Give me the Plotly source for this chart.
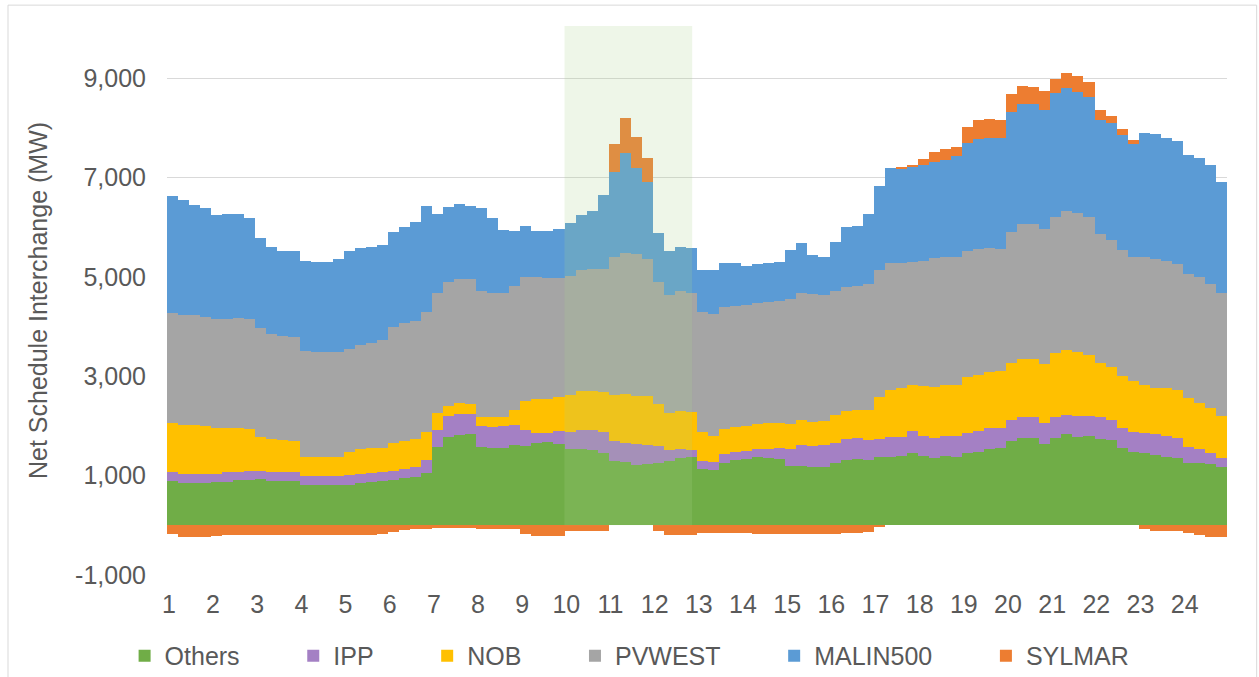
import plotly.graph_objects as go

# Hour-of-day labels (24 hours, 15-minute intervals)
hours = list(range(1, 25))
tick_text = [str(h) for h in hours]
y_tick_values = [-1000, 1000, 3000, 5000, 7000, 9000]
y_tick_text = ["-1,000", "1,000", "3,000", "5,000", "7,000", "9,000"]

# Net schedule interchange by intertie (MW), 15-minute values, hours 1-24
Others = [
    890, 844, 844, 844, 877, 877, 904, 904, 924, 884, 884, 884, 810, 810, 810, 810,
    803, 844, 877, 890, 911, 944, 978, 1045, 1581, 1783, 1823, 1837, 1581, 1561, 1561, 1615,
    1602, 1663, 1682, 1642, 1542, 1528, 1515, 1461, 1293, 1267, 1220, 1233, 1260, 1287, 1354, 1367,
    1139, 1105, 1260, 1307, 1340, 1367, 1360, 1327, 1199, 1199, 1179, 1179, 1260, 1313, 1327, 1307,
    1367, 1381, 1394, 1461, 1394, 1360, 1401, 1381, 1448, 1481, 1541, 1548, 1703, 1750, 1750, 1636,
    1750, 1837, 1784, 1790, 1743, 1716, 1562, 1475, 1448, 1414, 1381, 1361, 1254, 1260, 1227, 1173,
]
IPP = [
    182, 187, 187, 187, 154, 195, 168, 188, 168, 181, 181, 181, 181, 174, 174, 174,
    202, 187, 181, 175, 174, 188, 187, 268, 336, 422, 416, 402, 416, 423, 436, 395,
    315, 187, 168, 248, 342, 389, 395, 409, 410, 396, 409, 383, 342, 228, 174, 148,
    161, 175, 174, 161, 148, 161, 181, 234, 329, 409, 416, 436, 402, 416, 429, 415,
    376, 395, 389, 429, 403, 403, 402, 409, 415, 423, 416, 409, 416, 422, 422, 429,
    422, 382, 415, 416, 429, 403, 388, 408, 415, 423, 422, 395, 315, 268, 234, 181,
]
NOB = [
    979, 993, 986, 966, 919, 885, 892, 838, 691, 664, 651, 637, 389, 390, 396, 396,
    469, 497, 497, 490, 564, 563, 564, 570, 335, 201, 214, 201, 188, 201, 188, 309,
    584, 698, 691, 698, 737, 785, 792, 805, 925, 985, 979, 985, 838, 751, 778, 771,
    570, 516, 496, 502, 509, 502, 517, 503, 509, 510, 483, 490, 557, 570, 563, 597,
    831, 946, 973, 933, 1006, 1026, 1027, 1033, 1127, 1127, 1127, 1147, 1140, 1167, 1167, 1180,
    1288, 1308, 1281, 1221, 1087, 1073, 1054, 1027, 960, 926, 953, 966, 986, 926, 892, 845,
]
PVWEST = [
    2227, 2213, 2214, 2200, 2194, 2187, 2213, 2214, 2179, 2113, 2092, 2093, 2126, 2105, 2106, 2113,
    2066, 2099, 2119, 2173, 2347, 2381, 2388, 2415, 2415, 2495, 2495, 2515, 2535, 2482, 2495, 2495,
    2501, 2441, 2434, 2387, 2401, 2441, 2455, 2475, 2777, 2837, 2844, 2750, 2462, 2374, 2401, 2381,
    2428, 2455, 2455, 2448, 2442, 2436, 2434, 2455, 2509, 2549, 2575, 2521, 2488, 2502, 2502, 2529,
    2563, 2562, 2521, 2481, 2521, 2596, 2575, 2582, 2522, 2535, 2502, 2455, 2649, 2716, 2716, 2710,
    2750, 2804, 2810, 2783, 2602, 2548, 2535, 2482, 2582, 2602, 2562, 2535, 2501, 2548, 2502, 2468,
]
MALIN500 = [
    2360, 2301, 2213, 2180, 2106, 2119, 2086, 2032, 1831, 1764, 1717, 1730, 1824, 1818, 1804, 1864,
    1985, 1945, 1918, 1911, 1911, 1925, 1992, 2139, 1609, 1509, 1523, 1469, 1657, 1509, 1274, 1114,
    1020, 939, 946, 986, 1053, 1100, 1167, 1496, 1710, 1999, 1730, 1563, 972, 879, 892, 906,
    838, 885, 885, 852, 784, 791, 792, 785, 993, 1006, 778, 778, 999, 1194, 1207, 1428,
    1693, 1912, 1912, 1912, 1925, 1931, 1958, 2019, 2187, 2213, 2213, 2240, 2414, 2435, 2422, 2401,
    2501, 2474, 2435, 2414, 2294, 2348, 2327, 2280, 2495, 2508, 2475, 2482, 2388, 2395, 2394, 2247,
]
SYLMAR = [
    -175, -229, -229, -229, -215, -195, -195, -195, -195, -195, -195, -195, -195, -195, -195, -195,
    -195, -195, -195, -180, -128, -94, -81, -81, -60, -60, -60, -60, -81, -81, -81, -81,
    -170, -209, -209, -209, -120, -120, -120, -110, 550, 724, 637, 470, -120, -195, -195, -195,
    -150, -150, -150, -150, -150, -175, -175, -175, -175, -175, -175, -175, -165, -160, -160, -130,
    -30, 0, 10, 20, 120, 208, 208, 200, 322, 376, 382, 369, 369, 349, 349, 382,
    282, 302, 315, 302, 200, 148, 120, 80, -70, -108, -108, -108, -160, -200, -229, -229,
]

series = [
    ("Others", Others, "#70AD47"),
    ("IPP", IPP, "#A480C4"),
    ("NOB", NOB, "#FFC000"),
    ("PVWEST", PVWEST, "#A5A5A5"),
    ("MALIN500", MALIN500, "#5B9BD5"),
    ("SYLMAR", SYLMAR, "#ED7D31"),
]

n = len(Others)
x = [1 + (i + 0.5) / 4 for i in range(n)]
pad = "\u00a0" * 7

fig = go.Figure()
for k, (name, vals, color) in enumerate(series):
    label = name + (pad if k < len(series) - 1 else "")
    fig.add_trace(go.Bar(
        x=x, y=vals, width=0.25, name=label,
        marker=dict(color=color, line=dict(width=0)),
        hovertemplate=name + ": %{y}<extra></extra>",
    ))

ymin, ymax = -1000, 10050
grid = "#D9D9D9"
txt = "#595959"

fig.update_layout(
    width=1259, height=677,
    margin=dict(l=167, r=32, t=26, b=102, autoexpand=False),
    barmode="relative", bargap=0,
    plot_bgcolor="white", paper_bgcolor="white",
    font=dict(family="Liberation Sans, Arial, sans-serif", size=25, color=txt),
    showlegend=True,
    legend=dict(orientation="h", x=-0.040, xanchor="left", y=-0.1475, yanchor="middle",
                traceorder="normal", font=dict(size=25, color=txt), bgcolor="rgba(0,0,0,0)"),
    xaxis=dict(range=[1, 25], tickmode="array", tickvals=[h + 1 / 24 for h in hours],
               ticktext=tick_text, showgrid=False, zeroline=False, showline=False, ticks="",
               ticklabelstandoff=12, tickfont=dict(size=25, color=txt), automargin=False),
    xaxis2=dict(overlaying="x", anchor="free", position=(0 - ymin) / (ymax - ymin),
                range=[1, 25], tickmode="array", tickvals=list(range(1, 26)), ticks="inside",
                ticklen=7, tickcolor=grid, tickwidth=1, showline=True, linecolor=grid,
                linewidth=1, showticklabels=False, showgrid=False, zeroline=False, side="bottom"),
    yaxis=dict(range=[ymin, ymax], tickmode="array", tickvals=y_tick_values, ticktext=y_tick_text,
               showgrid=True, gridcolor=grid, gridwidth=1, zeroline=False, showline=False,
               ticks="", ticklabelstandoff=20, tickfont=dict(size=25, color=txt), automargin=False,
               title=dict(text="Net Schedule Interchange (MW)", standoff=20,
                          font=dict(size=25, color=txt))),
    shapes=[
        dict(type="rect", xref="x", yref="y", x0=10, x1=12.89, y0=0, y1=ymax,
             fillcolor="rgba(169,208,142,0.2)", line=dict(width=0), layer="above"),
        dict(type="rect", xref="paper", yref="paper", x0=-0.15, x1=1.028, y0=-0.19, y1=1.038,
             line=dict(color=grid, width=1), fillcolor="rgba(0,0,0,0)", layer="below"),
    ],
)

fig.write_html("out.html", config={"displayModeBar": False},
               post_script="document.body.style.margin='0';document.body.style.overflow='hidden';")
